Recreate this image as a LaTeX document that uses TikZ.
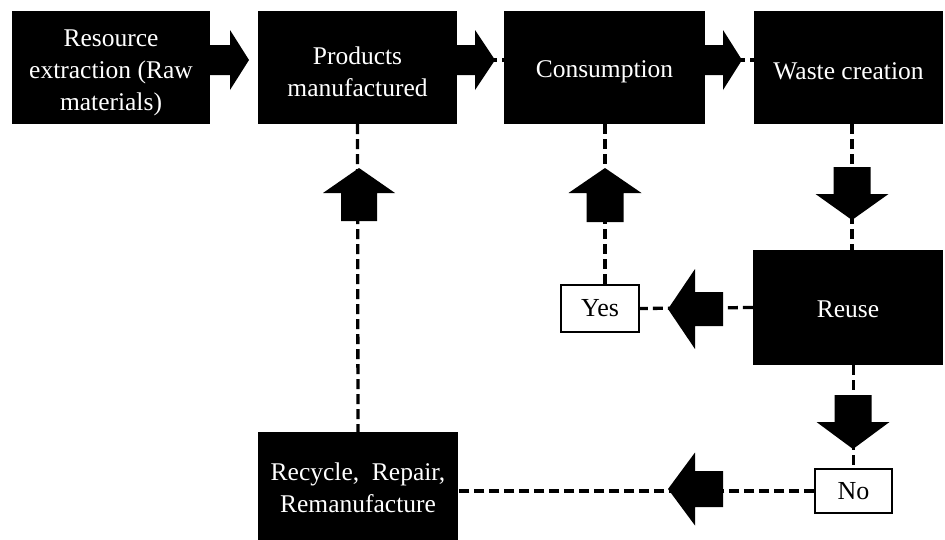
\documentclass[tikz,border=0pt]{standalone}
\usepackage{fontspec}
\setmainfont{Liberation Serif}
\newcommand{\blockarr}[7]{%
  \fill[black, shift={(#1,#2)}, rotate=#3]
    (0,0) -- (-#5,#7) -- (-#5,#6) -- (-#5-#4,#6) -- (-#5-#4,-#6)
    -- (-#5,-#6) -- (-#5,-#7) -- cycle;}
\begin{document}
\begin{tikzpicture}[x=1pt,y=-1pt,
  blackbox/.style={fill=black, inner sep=0pt},
  boxtext/.style={text=white, inner sep=0pt, align=center,
    font=\fontsize{25.5}{32}\selectfont},
  answerbox/.style={draw=black, line width=1.2pt, fill=white, inner sep=0pt,
    font=\fontsize{26}{32}\selectfont},
  conn/.style={line width=3.3pt, dash pattern=on 10pt off 5pt}]
\useasboundingbox (0,0) rectangle (945,539);

\coordinate (c3) at (605,124);
\coordinate (c4) at (852,124);

\node[blackbox, minimum width=198pt, minimum height=113pt] (B1) at (111,67.5) {};
\node[blackbox, minimum width=199pt, minimum height=113pt] (B2) at (357.5,67.5) {};
\node[blackbox, minimum width=201pt, minimum height=113pt] (B3) at (604.5,67.5) {};
\node[blackbox, minimum width=189pt, minimum height=113pt] (B4) at (848.5,67.5) {};
\node[blackbox, minimum width=190pt, minimum height=115pt] (Reuse) at (848,307.5) {};
\node[blackbox, minimum width=200pt, minimum height=112pt] (Rec) at (358,488) {};
\node[answerbox, minimum width=78pt, minimum height=47pt] (Yes) at (600,308.5) {Yes};
\node[answerbox, minimum width=77pt, minimum height=44pt] (No) at (853.5,491) {No};

\node[boxtext] (T1) at ([yshift=-5pt]B1.center) {Resource\\extraction (Raw\\materials)};
\node[boxtext] (T2) at ([yshift=-4pt]B2.center) {Products\\manufactured};
\node[boxtext] (T3) at ([yshift=-4pt]B3.center) {Consumption};
\node[boxtext] (T4) at ([yshift=-4pt]B4.center) {Waste creation};
\node[boxtext] (T5) at ([yshift=-1.5pt]Reuse.center) {Reuse};
\node[boxtext] (T6) at (Rec.center) {Recycle,\ \ Repair,\\Remanufacture};

% dashed connectors
\draw[conn] ([yshift=7.5pt]B2.east) -- ([yshift=7.5pt]B3.west);
\draw[conn] ([yshift=7.5pt]B3.east) -- ([yshift=7.5pt]B4.west);
\draw[conn] (B2.south) -- (Rec.north);
\draw[conn] (c3) -- (c3 |- Yes.north);
\draw[conn] (c4) -- (c4 |- Reuse.north);
\draw[conn] (Reuse.west) -- (Yes.east);
\draw[conn] (No.north |- Reuse.south) -- (No.north);
\draw[conn] (No.west) -- (No.west -| Rec.east);

% block arrows: x y angle shaftlen headlen shafthalf headhalf
\blockarr{249}{60}{0}{20}{19}{15}{30}
\blockarr{495}{60}{0}{18}{20}{15}{30}
\blockarr{742}{60}{0}{18}{19}{15}{30}
\blockarr{359}{168}{90}{28}{25}{18}{36}
\blockarr{605}{168}{90}{29}{25}{18.5}{36.5}
\blockarr{852}{220}{-90}{27}{26}{18.5}{36.5}
\blockarr{668}{309}{180}{28}{27}{17}{40}
\blockarr{853}{449}{-90}{27}{27}{18.5}{36.5}
\blockarr{668}{489}{180}{28}{27}{18}{36.5}
\end{tikzpicture}
\end{document}
